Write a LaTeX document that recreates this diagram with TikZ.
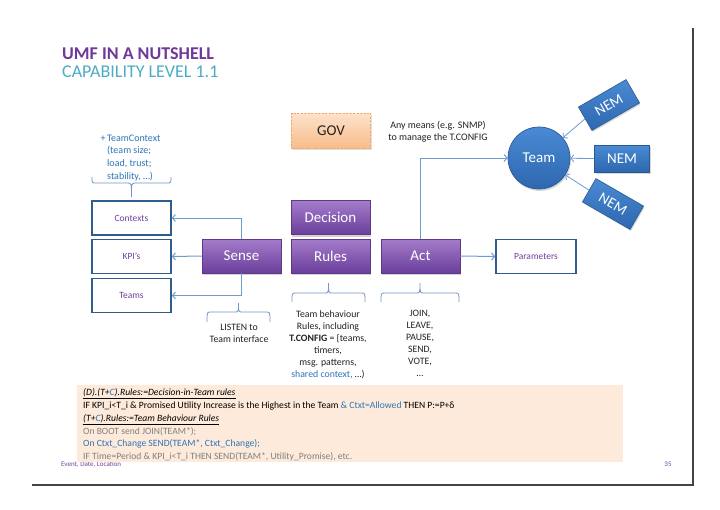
\documentclass[tikz,border=0pt]{standalone}
\usepackage{fontspec}
\setmainfont{Carlito}
\usetikzlibrary{arrows.meta,shadows}
\definecolor{titlepurple}{HTML}{70389A}
\definecolor{titleblue}{HTML}{4BACC6}
\definecolor{purptop}{HTML}{A47CCB}
\definecolor{purpbot}{HTML}{6A3E9B}
\definecolor{purpedge}{HTML}{5F3A88}
\definecolor{teamtop}{HTML}{4A8AD4}
\definecolor{teambot}{HTML}{2D67AF}
\definecolor{teamedge}{HTML}{2A5A93}
\definecolor{linkblue}{HTML}{6E9CCF}
\definecolor{bracecol}{HTML}{7498C4}
\definecolor{frameblue}{HTML}{2F5D8C}
\definecolor{textblue}{HTML}{2E75B6}
\definecolor{labelpurple}{HTML}{7040A0}
\definecolor{peach}{HTML}{FDEADA}
\definecolor{govtop}{HTML}{FDE2CB}
\definecolor{govbot}{HTML}{F8BC8A}
\definecolor{govedge}{HTML}{F2A766}
\definecolor{graytext}{HTML}{808080}
\definecolor{framegray}{HTML}{444444}
\definecolor{darktext}{HTML}{222222}
\tikzset{
  purplebox/.style={rectangle, minimum width=79pt, minimum height=34pt, inner sep=0pt,
    top color=purptop, bottom color=purpbot, draw=purpedge, line width=0.5pt, text=white,
    font=\fontsize{15}{18}\selectfont,
    drop shadow={opacity=0.35, shadow xshift=1pt, shadow yshift=-2pt}},
  outbox/.style={rectangle, minimum width=79pt, minimum height=34pt, inner sep=0pt,
    draw=frameblue, line width=1.6pt, fill=white, text=labelpurple,
    font=\fontsize{9.5}{11}\selectfont},
  nembox/.style={rectangle, minimum width=55pt, minimum height=27pt, inner sep=0pt,
    top color=teamtop, bottom color=teambot, draw=teamedge, line width=0.6pt, text=white,
    font=\fontsize{15}{18}\selectfont,
    drop shadow={opacity=0.3, shadow xshift=1pt, shadow yshift=-1.5pt}},
  link/.style={draw=linkblue, line width=1pt, -{Straight Barb[length=3pt,width=7pt,line width=1pt]}},
  nemlink/.style={draw=linkblue, line width=0.8pt, -{Straight Barb[length=3pt,width=7pt,line width=0.8pt]}},
  bracestyle/.style={draw=bracecol, line width=0.8pt},
  framestyle/.style={fill=framegray},
  smalltext/.style={font=\fontsize{9.8}{12}\selectfont, text=darktext, inner sep=0pt},
}
\newcommand{\hbrace}[5]{%
  \pgfmathsetmacro\bxm{(#1+#2)/2}%
  \draw[bracestyle] (#1,#3) .. controls (#1,#4) .. (#1+4,#4) -- (\bxm-4,#4)
    .. controls (\bxm,#4) .. (\bxm,#5) .. controls (\bxm,#4) .. (\bxm+4,#4)
    -- (#2-4,#4) .. controls (#2,#4) .. (#2,#3);%
}
\begin{document}
\begin{tikzpicture}[x=1pt,y=-1pt]
\useasboundingbox (0,0) rectangle (720,509);
\fill[white] (0,0) rectangle (720,509);

% slide frame
\path[framestyle] (692.4,28) rectangle (693.6,485.6);
\path[framestyle] (32,484.4) rectangle (693.6,485.6);

% title
\node[anchor=base west, inner sep=0pt, text=titlepurple, font=\fontsize{18}{21}\selectfont\bfseries] (title) at (62,59) {UMF IN A NUTSHELL};
\node[anchor=base west, inner sep=0pt, text=titleblue, font=\fontsize{18}{21}\selectfont] (subtitle) at (62,77) {CAPABILITY LEVEL 1.1};

% GOV
\node[rectangle, minimum width=79pt, minimum height=35pt, inner sep=0pt,
  top color=govtop, bottom color=govbot, draw=govedge, line width=0.7pt,
  dash pattern=on 2pt off 1.5pt, text=darktext, font=\fontsize{15}{18}\selectfont,
  drop shadow={opacity=0.25, shadow xshift=1pt, shadow yshift=-1.5pt}] (gov) at (331,130.5) {GOV};

% note
\node[smalltext, align=center, font=\fontsize{10}{12.5}\selectfont] (means) at (438,131.5) {Any means (e.g. SNMP)\\to manage the T.CONFIG};

% team and NEMs
\node[circle, minimum size=62pt, inner sep=0pt, top color=teamtop, bottom color=teambot,
  draw=teamedge, line width=0.7pt, text=white, font=\fontsize{15}{18}\selectfont,
  drop shadow={opacity=0.3, shadow xshift=1pt, shadow yshift=-2pt}] (team) at (539,158) {Team};
\node[nembox, rotate=30] (nem1) at (609,105) {NEM};
\node[nembox] (nem2) at (622,158.5) {NEM};
\node[nembox, rotate=-30] (nem3) at (613,204) {NEM};
\draw[nemlink] (nem1.west) -- (team);
\draw[nemlink] (nem2.west) -- (team);
\draw[nemlink] (nem3.west) -- (team);

% purple boxes
\node[purplebox] (decision) at (330.5,217.5) {Decision};
\node[purplebox] (rules) at (330.5,256) {Rules};
\node[purplebox] (sense) at (241.5,256) {Sense};
\node[purplebox] (act) at (420.5,256) {Act};

% outputs
\node[outbox] (contexts) at (131.5,218) {Contexts};
\node[outbox] (kpi) at (131.5,256.5) {KPI’s};
\node[outbox] (teams) at (131.5,295.5) {Teams};
\node[outbox, minimum width=80pt] (params) at (536,256.5) {Parameters};

% connectors
\draw[link] (sense.north) |- (contexts.east);
\draw[link] (sense.west) -- (kpi.east);
\draw[link] (sense.south) |- (teams.east);
\draw[link] (act.east) -- (params.west);
\draw[link] (act.north) |- (team.west);

% team context text and brace
\node[smalltext, anchor=north west, align=left, text=textblue, font=\fontsize{10}{12.7}\selectfont] (ctxtext) at (107,134.5)
  {\llap{+\,}TeamContext\\(team size;\\load, trust;\\stability, …)};
\hbrace{92}{171}{177}{183}{197}

% braces under boxes
\hbrace{207}{270}{322}{312}{303}
\hbrace{292}{365}{302}{293}{283}
\hbrace{381}{459}{302}{293}{283}

\node[smalltext, anchor=north, align=center] (listen) at (239,324) {LISTEN to\\Team interface};
\node[smalltext, anchor=north, align=center] (rulestext) at (328,310)
  {Team behaviour\\Rules, including\\\textbf{T.CONFIG} = \{teams,\\timers,\\msg. patterns,\\\textcolor{textblue}{shared context,} …)};
\node[smalltext, anchor=north, align=center] (acttext) at (420,310)
  {JOIN,\\LEAVE,\\PAUSE,\\SEND,\\VOTE,\\…};

% footer
\node[anchor=base west, inner sep=0pt, text=labelpurple, font=\fontsize{7}{8}\selectfont] (footer) at (61,466.5) {Event, Date, Location};
\node[inner sep=0pt, text=labelpurple, font=\fontsize{7}{8}\selectfont] (pagenum) at (668,464) {35};

% rules box
\fill[peach] (77,385) rectangle (623,462);
\node[anchor=north west, inner sep=0pt, align=left, text=black, font=\fontsize{9.6}{12.8}\selectfont] (rulebox) at (83,388.5)
  {\underline{\textit{(D).(T+\textcolor{textblue}{C}).Rules:=Decision-in-Team rules}}\\
   IF KPI\_i<T\_i \& Promised Utility Increase is the Highest in the Team \textcolor{textblue}{\& Ctxt=Allowed} THEN P:=P+δ\\
   \underline{\textit{(T+\textcolor{textblue}{C}).Rules:=Team Behaviour Rules}}\\
   \textcolor{graytext}{On BOOT send JOIN(TEAM*);}\\
   \textcolor{textblue}{On Ctxt\_Change SEND(TEAM*, Ctxt\_Change);}\\
   \textcolor{graytext}{IF Time=Period \& KPI\_i<T\_i THEN SEND(TEAM*, Utility\_Promise), etc.}};
\end{tikzpicture}
\end{document}
